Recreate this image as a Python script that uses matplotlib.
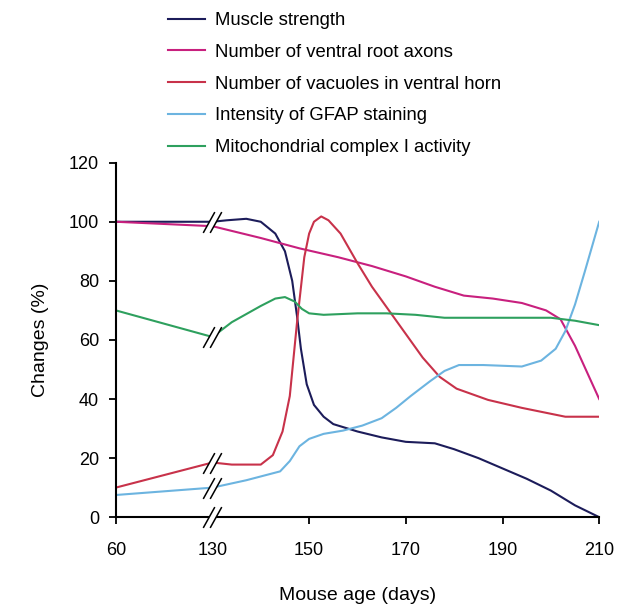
import numpy as np
import matplotlib.pyplot as plt
from matplotlib.path import Path

plt.rcParams['font.family'] = ['Liberation Sans', 'DejaVu Sans']

# Data (age in days, % change)
muscle_age = [60, 130, 133, 137, 140, 143, 145, 146.5, 147.5, 148.3, 149.5, 151, 153, 155, 160, 165, 170, 176, 180, 185, 190, 195, 200, 205, 210]
muscle_val = [100, 100, 100.5, 101, 100, 96, 90, 80, 68, 57, 45, 38, 34, 31.5, 29, 27, 25.5, 25, 23, 20, 16.5, 13, 9, 4, 0]

axons_age = [60, 130, 140, 148, 156, 163, 170, 176, 182, 188, 194, 199, 202, 205, 210]
axons_val = [100, 98.5, 94.5, 91, 88, 85, 81.5, 78, 75, 74, 72.5, 70, 67, 58, 40]

vacuole_age = [60, 130, 134, 140, 142.5, 144.5, 146, 147.5, 149, 150, 151, 152.5, 154, 156.5, 160, 163, 166.5, 170, 173.5, 177, 180.5, 187, 194, 203, 210]
vacuole_val = [10, 18.5, 17.8, 17.8, 21, 29, 41, 66, 88, 96, 100, 101.8, 100.5, 96, 86, 78, 70, 62, 54, 47.5, 43.5, 39.7, 37, 34, 34]

gfap_age = [60, 130, 137, 144, 146, 148, 150, 153, 157, 161, 165, 168, 171, 175, 178, 181, 186, 194, 198, 201, 203, 205, 207, 210]
gfap_val = [7.5, 10, 12.5, 15.5, 19, 24, 26.5, 28.2, 29.3, 31, 33.5, 37, 41, 46, 49.5, 51.5, 51.5, 51, 53, 57, 63, 72, 83, 100]

mito_age = [60, 130, 134, 140, 143, 145, 147, 148.5, 150, 153, 160, 166, 172, 178, 190, 200, 205, 210]
mito_val = [70, 61, 66, 71.5, 74, 74.5, 73, 70.5, 69, 68.5, 69, 69, 68.5, 67.5, 67.5, 67.5, 66.5, 65]

x_ticks = [60, 130, 150, 170, 190, 210]
y_ticks = [0, 20, 40, 60, 80, 100, 120]


def pos(age):
    # compress 60-130 onto the width of 20 days (axis break)
    age = np.asarray(age, dtype=float)
    return np.where(age < 130, 130 - (130 - age) * 20 / 70, age)


fig = plt.figure(figsize=(6.19, 6.07), dpi=100)
ax = fig.add_axes([0.187, 0.148, 0.781, 0.584])

series = [
    (muscle_age, muscle_val, '#1c1c5a', 'Muscle strength'),
    (axons_age, axons_val, '#c8207e', 'Number of ventral root axons'),
    (vacuole_age, vacuole_val, '#c8324a', 'Number of vacuoles in ventral horn'),
    (gfap_age, gfap_val, '#6cb4e0', 'Intensity of GFAP staining'),
    (mito_age, mito_val, '#2ea05e', 'Mitochondrial complex I activity'),
]
for a, v, c, lab in series:
    ax.plot(pos(a), v, color=c, lw=1.5, label=lab)

# break marks
slash = Path([(-8, -9), (2, 9), (-2, -9), (8, 9)],
             [Path.MOVETO, Path.LINETO, Path.MOVETO, Path.LINETO])
gap = Path([(-8, -9), (-2, -9), (8, 9), (2, 9), (-8, -9)],
           [Path.MOVETO, Path.LINETO, Path.LINETO, Path.LINETO, Path.CLOSEPOLY])
brk_y = [0, 10, 18.5, 61, 100]
for y in brk_y:
    ax.plot([130], [y], marker=gap, ms=15, mfc='white', mec='white', mew=0,
            clip_on=False, zorder=5)
    ax.plot([130], [y], marker=slash, ms=15, mfc='none', mec='black', mew=1.1,
            clip_on=False, zorder=6)

ax.set_xlim(110, 210)
ax.set_ylim(0, 120)
ax.set_xticks(pos(x_ticks))
ax.set_xticklabels([str(t) for t in x_ticks])
ax.set_yticks(y_ticks)
ax.spines['top'].set_visible(False)
ax.spines['right'].set_visible(False)
ax.spines['left'].set_linewidth(1.5)
ax.spines['bottom'].set_linewidth(1.5)
ax.tick_params(direction='out', length=5, width=1.3, labelsize=13)
ax.tick_params(axis='x', pad=13)
ax.tick_params(axis='y', pad=7)
ax.set_xlabel('Mouse age (days)', fontsize=14, labelpad=20)
ax.set_ylabel('Changes (%)', fontsize=14, labelpad=14)

fig.legend(loc='upper left', bbox_to_anchor=(0.252, 1.0), frameon=False,
           fontsize=13.3, handlelength=2.0, handletextpad=0.55, labelspacing=0.8,
           borderpad=0.15)

fig.savefig('out.png', dpi=100)
